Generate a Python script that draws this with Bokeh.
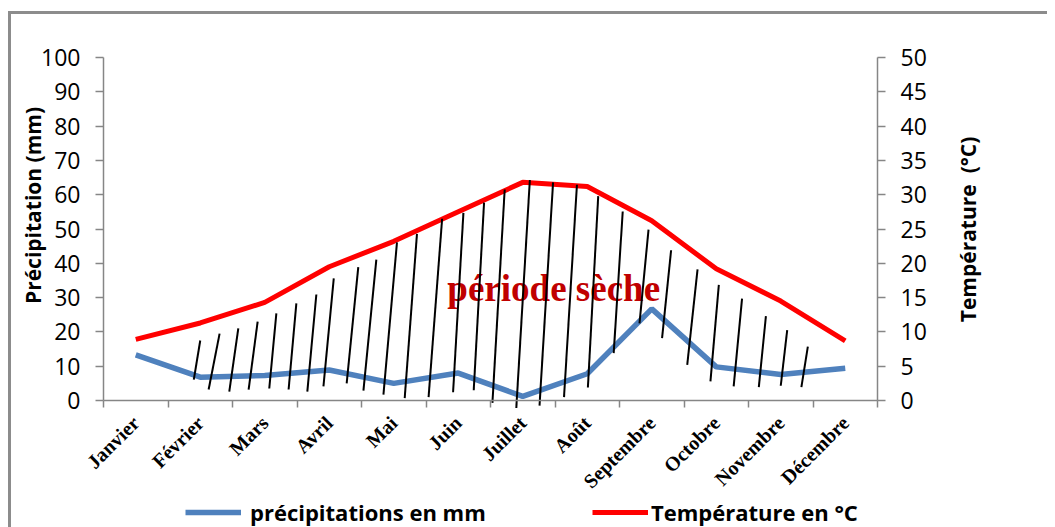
import math
from bokeh.plotting import figure
from bokeh.models import (Range1d, LinearAxis, FixedTicker, Legend, LegendItem, Label)
from bokeh.core.properties import value
from bokeh.embed import file_html
from bokeh.resources import INLINE

# ---------------- data ----------------
months = ["Janvier", "Février", "Mars", "Avril", "Mai", "Juin", "Juillet",
          "Août", "Septembre", "Octobre", "Novembre", "Décembre"]
precip_mm = [13.3, 6.8, 7.3, 8.9, 5.0, 8.0, 1.2, 7.8, 26.7, 9.8, 7.6, 9.4]
temp_c = [8.9, 11.3, 14.3, 19.5, 23.2, 27.5, 31.8, 31.2, 26.2, 19.2, 14.5, 8.7]

# hand-drawn hatching of the dry period (x in month index, y in mm)
hatch_x0 = [0.90, 1.13, 1.45, 1.75, 2.07, 2.37, 2.66, 2.91, 3.27, 3.53, 3.84, 4.17, 4.54, 4.92, 5.24,
            5.53, 5.90, 6.26, 6.64, 7.01, 7.41, 7.81, 8.16, 8.55, 8.91, 9.27, 9.66, 10.00, 10.32]
hatch_y0 = [6.1, 3.2, 2.6, 3.2, 3.5, 3.2, 2.6, 4.1, 5.0, 2.9, 1.7, 0.7, 1.0, 2.4, 3.0,
            -0.7, -2.2, -1.5, 1.0, 3.8, 13.8, 22.5, 18.2, 10.4, 5.6, 4.1, 3.9, 4.3, 3.9]
hatch_x1 = [1.00, 1.30, 1.59, 1.89, 2.18, 2.49, 2.80, 3.07, 3.45, 3.73, 4.05, 4.36, 4.75, 5.08, 5.40,
            5.72, 6.11, 6.47, 6.84, 7.17, 7.55, 7.95, 8.30, 8.71, 9.04, 9.40, 9.77, 10.10, 10.42]
hatch_y1 = [17.5, 19.5, 21.0, 23.0, 25.4, 28.3, 30.9, 35.6, 38.9, 41.1, 46.1, 48.6, 53.0, 54.7, 57.7,
            61.5, 64.3, 63.6, 62.9, 59.6, 55.1, 49.8, 43.8, 38.2, 33.7, 29.7, 24.6, 20.5, 15.7]

dry_label = "période sèche"
dry_label_x = [6.48]
dry_label_y = [32.7]

precip_ticks = list(range(0, 101, 10))
temp_ticks = list(range(0, 51, 5))

left_title = "Précipitation (mm)"
right_title = "Température\u00a0\u00a0(°C)"
legend_precip = "précipitations en mm"
legend_temp = "Température en °C"

# ---------------- layout (pixels) ----------------
W, H = 1047, 527            # canvas = plotting frame
AX_L, AX_R = 103, 877       # x pixel of the two value axes
Y0, Y100 = 400, 57          # y pixel of 0 mm and 100 mm

n = len(months)
cat_w = (AX_R - AX_L) / n
x_start = -0.5 - AX_L / cat_w
x_end = -0.5 + (W - AX_L) / cat_w
ppu = (Y0 - Y100) / 100.0
y_end = Y0 / ppu
y_start = -(H - Y0) / ppu

GRAY = "#868686"
idx = list(range(n))

p = figure(frame_width=W, frame_height=H, min_border=0,
           x_range=Range1d(x_start, x_end), y_range=Range1d(y_start, y_end),
           output_backend="svg", toolbar_location=None, x_axis_location=None, y_axis_location=None)
p.outline_line_color = None
p.xgrid.visible = False
p.ygrid.visible = False
p.background_fill_color = None
p.border_fill_color = None
p.styles = {"background-color": "white",
            "box-shadow": "inset 8px 11px 0 0 white, inset 11px 14px 0 0 #8c8c8c"}
p.extra_y_ranges = {"temp": Range1d(y_start / 2, y_end / 2)}

# axes (drawn at fixed places inside the canvas)
xaxis = LinearAxis(fixed_location=0, bounds=(-0.5, n - 0.5),
                   ticker=FixedTicker(ticks=idx, minor_ticks=[i - 0.5 for i in range(n + 1)]))
xaxis.major_label_overrides = {i: m for i, m in enumerate(months)}
xaxis.major_label_orientation = math.pi / 4
xaxis.major_tick_line_color = None
xaxis.major_tick_out = 0
xaxis.major_tick_in = 0
xaxis.minor_tick_line_color = GRAY
xaxis.minor_tick_line_width = 1.5
xaxis.minor_tick_out = 7
xaxis.minor_tick_in = 0
xaxis.axis_line_color = GRAY
xaxis.axis_line_width = 1.5
xaxis.major_label_text_font = "Liberation Serif"
xaxis.major_label_text_font_style = "bold"
xaxis.major_label_text_font_size = "20px"
xaxis.major_label_text_color = "black"
xaxis.major_label_standoff = 12
p.add_layout(xaxis, "below")

yaxis = LinearAxis(fixed_location=-0.5, bounds=(0, 100),
                   ticker=FixedTicker(ticks=precip_ticks, minor_ticks=[]))
yaxis_r = LinearAxis(fixed_location=n - 0.5, bounds=(0, 50), y_range_name="temp",
                     ticker=FixedTicker(ticks=temp_ticks, minor_ticks=[]))
for ax in (yaxis, yaxis_r):
    ax.axis_line_color = GRAY
    ax.axis_line_width = 1.5
    ax.major_tick_line_color = GRAY
    ax.major_tick_line_width = 1.5
    ax.major_tick_out = 8
    ax.major_tick_in = 0
    ax.minor_tick_line_color = None
    ax.major_label_text_font = "Open Sans"
    ax.major_label_text_font_size = "23px"
    ax.major_label_text_color = "black"
    ax.major_label_standoff = 15
p.add_layout(yaxis, "left")
p.add_layout(yaxis_r, "right")

# axis titles (screen units: from the canvas' left and bottom)
for txt, sx, sy in ((left_title, 32, H - 205), (right_title, 967, H - 229)):
    p.add_layout(Label(x=sx, y=sy, x_units="screen", y_units="screen", text=txt,
                       angle=math.pi / 2, text_align="center", text_baseline="middle",
                       text_font="Open Sans", text_font_style="bold", text_font_size="21px",
                       text_color="black"))

# dry period text (under the hatching)
p.text(x=dry_label_x, y=dry_label_y, text=[dry_label], text_font=value("Liberation Serif"),
       text_font_style="bold", text_font_size="37px", text_color="#C00000",
       text_align="center", text_baseline="alphabetic")

# series
r_p = p.line(idx, precip_mm, line_color="#4F81BD", line_width=5.5)
r_t = p.line(idx, temp_c, line_color="#FF0000", line_width=5, y_range_name="temp")

# hatching
p.segment(x0=hatch_x0, y0=hatch_y0, x1=hatch_x1, y1=hatch_y1, line_color="black", line_width=2)

# legends
for rend, lab, sx, gw, st in ((r_p, legend_precip, 185, 56, 9),
                              (r_t, legend_temp, 592, 56, 3)):
    lg = Legend(items=[LegendItem(label=lab, renderers=[rend])], location=(sx, 0),
                orientation="horizontal", padding=0, margin=0, spacing=0,
                glyph_width=gw, glyph_height=20, label_height=20, label_standoff=st,
                border_line_color=None, background_fill_color=None, background_fill_alpha=0,
                label_text_font="Open Sans", label_text_font_style="bold",
                label_text_font_size="22px", label_text_color="black")
    p.add_layout(lg, "center")

open("out.html", "w").write(file_html(p, INLINE))
